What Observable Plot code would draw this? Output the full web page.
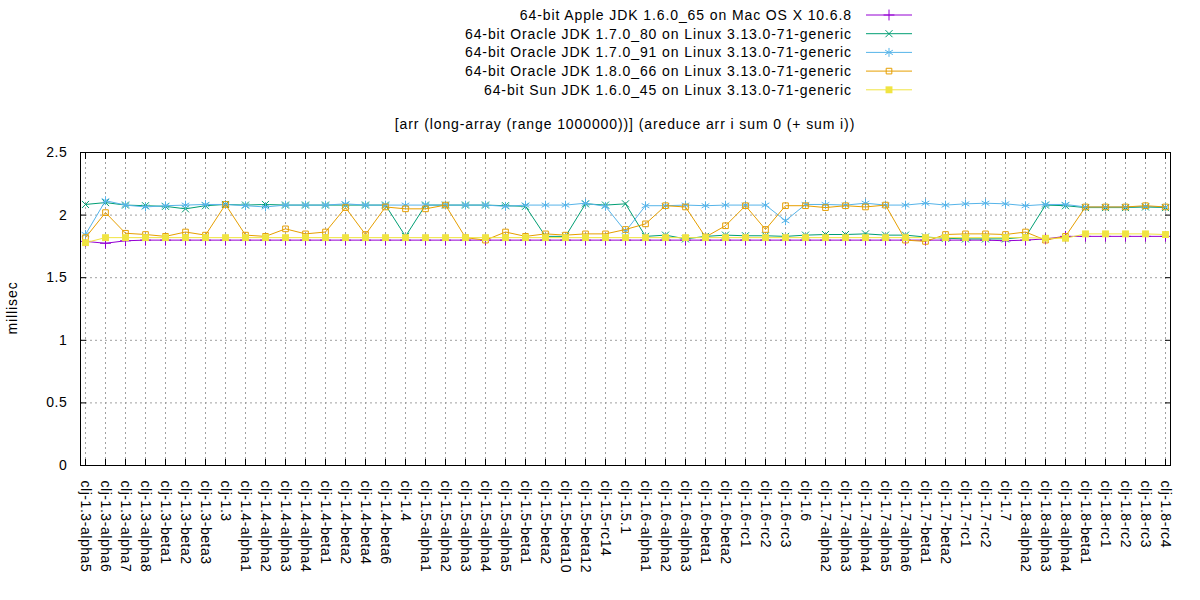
<!DOCTYPE html>
<html><head><meta charset="utf-8">
<script src="https://cdn.jsdelivr.net/npm/d3@7"></script>
<script src="https://cdn.jsdelivr.net/npm/@observablehq/plot@0.6"></script>
<style>
body{margin:0;background:#fff;}
#wrap{position:relative;width:1200px;height:600px;font-family:"Liberation Sans",Arial,sans-serif;}
#wrap svg{position:absolute;left:0;top:0;}
#wrap g[aria-label="x-axis tick label"] text{letter-spacing:0.55px;}
#wrap g[aria-label="y-axis tick label"] text{letter-spacing:0.6px;}
#wrap .ov text{letter-spacing:0.9px;}
</style></head><body><div id="wrap"></div>
<script>
const categories = ["clj-1.3-alpha5","clj-1.3-alpha6","clj-1.3-alpha7","clj-1.3-alpha8","clj-1.3-beta1","clj-1.3-beta2","clj-1.3-beta3","clj-1.3",
"clj-1.4-alpha1","clj-1.4-alpha2","clj-1.4-alpha3","clj-1.4-alpha4","clj-1.4-beta1","clj-1.4-beta2","clj-1.4-beta4","clj-1.4-beta6","clj-1.4",
"clj-1.5-alpha1","clj-1.5-alpha2","clj-1.5-alpha3","clj-1.5-alpha4","clj-1.5-alpha5","clj-1.5-beta1","clj-1.5-beta2","clj-1.5-beta10","clj-1.5-beta12","clj-1.5-rc14","clj-1.5.1",
"clj-1.6-alpha1","clj-1.6-alpha2","clj-1.6-alpha3","clj-1.6-beta1","clj-1.6-beta2","clj-1.6-rc1","clj-1.6-rc2","clj-1.6-rc3","clj-1.6",
"clj-1.7-alpha2","clj-1.7-alpha3","clj-1.7-alpha4","clj-1.7-alpha5","clj-1.7-alpha6","clj-1.7-beta1","clj-1.7-beta2","clj-1.7-rc1","clj-1.7-rc2","clj-1.7",
"clj-1.8-alpha2","clj-1.8-alpha3","clj-1.8-alpha4","clj-1.8-beta1","clj-1.8-rc1","clj-1.8-rc2","clj-1.8-rc3","clj-1.8-rc4"];

const seriesNames = [
  "64-bit Apple JDK 1.6.0_65 on Mac OS X 10.6.8",
  "64-bit Oracle JDK 1.7.0_80 on Linux 3.13.0-71-generic",
  "64-bit Oracle JDK 1.7.0_91 on Linux 3.13.0-71-generic",
  "64-bit Oracle JDK 1.8.0_66 on Linux 3.13.0-71-generic",
  "64-bit Sun JDK 1.6.0_45 on Linux 3.13.0-71-generic"
];

const apple = [1.79,1.775,1.795,1.80,1.80,1.80,1.80,1.80,1.80,1.80,1.80,1.80,1.80,1.80,1.80,1.80,1.80,
1.80,1.80,1.80,1.80,1.80,1.80,1.80,1.80,1.80,1.80,1.80,
1.80,1.80,1.80,1.80,1.80,1.80,1.80,1.80,1.80,
1.80,1.80,1.80,1.80,1.80,1.80,1.80,1.80,1.80,1.795,
1.80,1.81,1.83,1.83,1.83,1.83,1.83,1.83];

const oracle80 = [2.085,2.10,2.08,2.075,2.07,2.05,2.075,2.085,2.08,2.085,2.08,2.08,2.08,2.08,2.08,2.08,1.83,
2.08,2.08,2.08,2.08,2.075,2.07,1.83,1.83,2.09,2.08,2.09,
1.83,1.84,1.81,1.83,1.84,1.835,1.835,1.83,1.84,
1.845,1.845,1.85,1.84,1.84,1.825,1.815,1.81,1.81,1.81,1.825,
2.08,2.075,2.06,2.06,2.06,2.065,2.06].slice(0,55);

const oracle91 = [1.845,2.115,2.08,2.065,2.075,2.08,2.085,2.085,2.075,2.065,2.08,2.08,2.08,2.09,2.08,2.08,2.08,
2.08,2.08,2.08,2.08,2.07,2.08,2.08,2.08,2.095,2.07,1.87,
2.075,2.075,2.08,2.075,2.08,2.08,2.08,1.955,2.085,
2.085,2.08,2.095,2.08,2.08,2.095,2.08,2.09,2.095,2.09,2.075,
2.085,2.085,2.065,2.065,2.065,2.07,2.065].slice(0,55);

const oracle66 = [1.82,2.02,1.855,1.845,1.83,1.865,1.84,2.085,1.84,1.83,1.89,1.85,1.865,2.06,1.845,2.065,2.05,
2.05,2.08,1.82,1.80,1.865,1.83,1.85,1.84,1.85,1.85,1.885,
1.93,2.075,2.065,1.825,1.915,2.075,1.885,2.075,2.075,
2.06,2.075,2.065,2.08,1.80,1.79,1.845,1.85,1.85,1.845,1.865,
1.80,1.83,2.065,2.065,2.065,2.075,2.065];

const sun = [1.78,1.82,1.82,1.82,1.82,1.82,1.82,1.82,1.82,1.82,1.82,1.82,1.82,1.82,1.82,1.82,1.82,
1.82,1.82,1.82,1.82,1.82,1.82,1.82,1.82,1.82,1.82,1.82,
1.82,1.82,1.82,1.82,1.82,1.82,1.82,1.82,1.82,
1.82,1.82,1.82,1.82,1.82,1.82,1.82,1.82,1.82,1.82,1.82,
1.815,1.815,1.85,1.85,1.85,1.85,1.845];

const yTicks = [0, 0.5, 1, 1.5, 2, 2.5];
const titleText = "[arr (long-array (range 1000000))] (areduce arr i sum 0 (+ sum i))";
const yLabel = "millisec";

const colors = ["#9400d3","#009e73","#56b4e9","#e69f00","#f0e442"];
const symbols = ["plus","times","asterisk","square2","square"];
const d3symbols = [d3.symbolPlus, d3.symbolTimes, d3.symbolAsterisk, d3.symbolSquare2, d3.symbolSquare];
const radii = [3.6, 3.3, 4.2, 3.6, 3.9];

const allSeries = [apple, oracle80, oracle91, oracle66, sun];
const seriesMarks = allSeries.flatMap((vals, s) => {
  const rows = vals.map((v, i) => ({cat: categories[i], v}));
  const fillSym = symbols[s] === "square";
  return [
    Plot.line(rows, {x: "cat", y: "v", stroke: colors[s], strokeWidth: 1}),
    Plot.dot(rows, {x: "cat", y: "v", symbol: symbols[s], r: radii[s],
      stroke: fillSym ? "none" : colors[s], fill: fillSym ? colors[s] : "none", strokeWidth: 1})
  ];
});

const chart = Plot.plot({
  width: 1200, height: 600,
  marginTop: 152, marginBottom: 135, marginLeft: 80, marginRight: 30,
  style: {fontFamily: '"Liberation Sans", Arial, sans-serif', fontSize: "14px", background: "white", color: "#000"},
  x: {type: "point", domain: categories, padding: 0},
  y: {domain: [0, 2.5]},
  marks: [
    Plot.gridX(categories, {stroke: "#a0a0a0", strokeOpacity: 1, strokeDasharray: "2,3"}),
    Plot.gridY(yTicks, {stroke: "#a0a0a0", strokeOpacity: 1, strokeDasharray: "2,3"}),
    ...seriesMarks,
    Plot.frame({stroke: "#000"}),
    Plot.axisX({anchor: "bottom", tickSize: 0, tickRotate: 90, tickPadding: 15, fontSize: 14, label: null}),
    Plot.axisX({anchor: "bottom", tickSize: -6, tickFormat: () => "", label: null}),
    Plot.axisX({anchor: "top", tickSize: -6, tickFormat: () => "", label: null}),
    Plot.axisY(yTicks, {anchor: "left", tickSize: 0, tickPadding: 13, tickFormat: d => String(d), fontSize: 14, label: null}),
    Plot.axisY(yTicks, {anchor: "left", tickSize: -6, tickFormat: () => "", label: null}),
    Plot.axisY(yTicks, {anchor: "right", tickSize: -6, tickFormat: () => "", label: null})
  ]
});
document.getElementById("wrap").appendChild(chart);

// overlay: legend, title, y label
const ov = d3.select("#wrap").append("svg").attr("class", "ov")
  .attr("width", 1200).attr("height", 600)
  .style("font-family", '"Liberation Sans", Arial, sans-serif')
  .style("font-size", "14px");

const legendRight = 852, rowY0 = 15, rowStep = 18.7, sampleX1 = 866, sampleX2 = 912;
seriesNames.forEach((name, s) => {
  const y = rowY0 + s * rowStep;
  ov.append("text").attr("x", legendRight).attr("y", y).attr("text-anchor", "end")
    .attr("dominant-baseline", "central").attr("fill", "#000").text(name);
  ov.append("line").attr("x1", sampleX1).attr("x2", sampleX2).attr("y1", y).attr("y2", y)
    .attr("stroke", colors[s]).attr("stroke-width", 1);
  const fillSym = symbols[s] === "square";
  ov.append("path").attr("transform", `translate(${(sampleX1 + sampleX2) / 2},${y})`)
    .attr("d", d3.symbol(d3symbols[s], Math.PI * radii[s] * radii[s])())
    .attr("fill", fillSym ? colors[s] : "none").attr("stroke", fillSym ? "none" : colors[s]);
});

ov.append("text").attr("x", 625).attr("y", 124).attr("text-anchor", "middle")
  .attr("dominant-baseline", "central").attr("fill", "#000").text(titleText);

ov.append("text").attr("transform", "translate(12,308) rotate(-90)").attr("text-anchor", "middle")
  .attr("dominant-baseline", "central").attr("fill", "#000").text(yLabel);
</script></body></html>
